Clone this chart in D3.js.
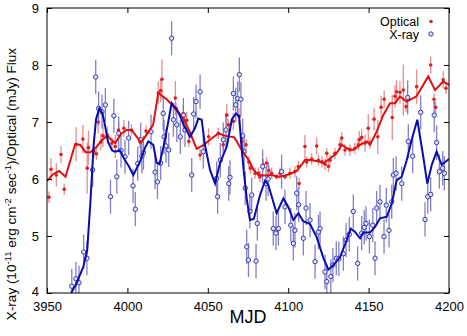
<!DOCTYPE html>
<html>
<head>
<meta charset="utf-8">
<script src="https://cdn.jsdelivr.net/npm/d3@7"></script>
<style>
  body { margin: 0; background: #fff; }
  svg text { font-family: "Liberation Sans", Arial, sans-serif; }
</style>
</head>
<body>
<div id="chart"></div>
<script>
var width = 467;
var height = 336;
var margin = { left: 47, right: 18, top: 8, bottom: 43 };

// optical points: MJD, flux, error
var opticalMjd = [3951.2, 3952.5, 3955.8, 3958.7, 3960.7, 3968.1, 3972.3, 3975.0, 3975.8, 3979.2,
  3980.7, 3981.8, 3983.5, 3984.8, 3987.5, 3990.4, 3992.5, 3994.5, 3997.8, 4002.5,
  4007.8, 4011.6, 4019.2, 4020.7, 4021.5, 4029.8, 4030.2, 4034.8, 4036.9, 4038.2,
  4045.2, 4050.5, 4056.5, 4059.6, 4061.8, 4062.8, 4065.9, 4069.4, 4071.1, 4073.8,
  4075.5, 4076.5, 4079.4, 4081.5, 4082.5, 4084.5, 4086.6, 4088.0, 4089.7, 4092.8,
  4094.9, 4098.0, 4101.1, 4104.2, 4106.3, 4106.8, 4110.4, 4111.5, 4114.6, 4117.7,
  4118.8, 4121.0, 4123.0, 4124.0, 4125.0, 4126.0, 4129.1, 4132.2, 4133.3, 4135.3,
  4138.4, 4141.5, 4143.6, 4144.2, 4145.7, 4147.8, 4149.8, 4150.9, 4153.4, 4155.7,
  4157.8, 4159.7, 4164.7, 4166.4, 4167.4, 4169.5, 4171.6, 4173.3, 4179.9, 4188.6,
  4190.7, 4191.7, 4196.4, 4198.1];
var opticalFlux = [5.68, 6.17, 6.07, 6.43, 5.82, 6.61, 6.70, 6.19, 6.55, 6.48,
  6.44, 7.00, 6.65, 6.76, 6.77, 6.63, 6.57, 6.86, 6.89, 6.86,
  6.65, 6.84, 7.51, 7.55, 7.75, 7.42, 7.24, 7.15, 7.03, 6.66,
  6.42, 6.74, 6.80, 6.60, 7.12, 6.95, 7.01, 7.10, 6.66, 6.60,
  6.30, 6.19, 6.10, 6.10, 6.04, 6.25, 6.28, 6.15, 6.10, 6.04,
  6.10, 6.04, 6.10, 6.13, 6.22, 5.92, 6.57, 6.30, 6.35, 6.58,
  6.33, 6.30, 6.26, 6.45, 6.22, 6.33, 6.45, 6.60, 6.72, 6.51,
  6.51, 6.54, 6.60, 6.69, 6.73, 6.63, 6.89, 6.63, 7.05, 6.74,
  7.26, 7.40, 7.08, 7.45, 7.53, 7.52, 7.56, 7.27, 7.62, 8.00,
  7.40, 7.26, 7.74, 7.59];
var opticalErr = [0.10, 0.20, 0.20, 0.15, 0.10, 0.30, 0.25, 0.45, 0.30, 0.10,
  0.10, 0.20, 0.15, 0.20, 0.15, 0.10, 0.20, 0.15, 0.15, 0.10,
  0.10, 0.10, 0.20, 0.20, 0.35, 0.30, 0.10, 0.15, 0.15, 0.10,
  0.10, 0.15, 0.10, 0.10, 0.20, 0.10, 0.15, 0.15, 0.10, 0.10,
  0.10, 0.10, 0.10, 0.10, 0.10, 0.10, 0.10, 0.10, 0.10, 0.05,
  0.10, 0.05, 0.10, 0.10, 0.10, 0.10, 0.20, 0.10, 0.10, 0.15,
  0.10, 0.10, 0.10, 0.10, 0.10, 0.10, 0.10, 0.10, 0.10, 0.10,
  0.10, 0.10, 0.10, 0.15, 0.15, 0.15, 0.25, 0.10, 0.20, 0.30,
  0.20, 0.15, 0.40, 0.20, 0.20, 0.20, 0.45, 0.10, 0.30, 0.15,
  0.10, 0.10, 0.15, 0.10];

// x-ray points: MJD, flux, error
var xrayMjd = [3965.4, 3968.0, 3969.9, 3972.8, 3974.8, 3978.4, 3980.3, 3982.1, 3984.2, 3986.3,
  3989.5, 3991.6, 3993.4, 3994.6, 3996.0, 3998.5, 4000.8, 4003.5, 4004.9, 4006.4,
  4008.3, 4009.0, 4010.0, 4014.7, 4017.2, 4018.7, 4020.7, 4022.3, 4022.8, 4024.0,
  4025.7, 4027.5, 4028.6, 4030.7, 4032.9, 4034.8, 4035.8, 4040.0, 4041.2, 4042.7,
  4045.2, 4047.2, 4055.5, 4056.1, 4057.8, 4059.6, 4061.3, 4063.0, 4063.8, 4065.9,
  4067.4, 4068.6, 4069.6, 4070.6, 4071.7, 4072.6, 4073.3, 4074.2, 4075.3, 4076.2,
  4077.3, 4080.0, 4080.8, 4084.1, 4086.2, 4087.5, 4090.7, 4092.4, 4093.9, 4095.9,
  4098.0, 4101.6, 4103.2, 4104.2, 4105.3, 4106.5, 4109.4, 4111.1, 4113.6, 4116.7,
  4118.8, 4119.8, 4122.9, 4124.0, 4126.5, 4127.8, 4129.9, 4131.5, 4134.3, 4136.0,
  4138.0, 4140.5, 4143.2, 4145.7, 4147.3, 4148.4, 4150.5, 4152.6, 4154.0, 4155.0,
  4157.1, 4159.6, 4161.0, 4162.7, 4164.4, 4165.4, 4167.1, 4170.6, 4174.3, 4174.7,
  4177.4, 4182.4, 4185.1, 4186.8, 4188.6, 4190.8, 4192.3, 4194.0, 4196.1, 4197.1];
var xrayFlux = [4.12, 4.25, 4.18, 4.72, 4.61, 6.16, 7.79, 7.24, 7.18, 7.30,
  5.69, 7.11, 6.04, 6.80, 6.50, 6.39, 6.72, 5.88, 5.47, 6.27,
  6.69, 6.40, 6.46, 6.83, 6.12, 5.95, 6.28, 7.15, 6.74, 6.58,
  6.51, 8.47, 7.04, 6.95, 6.74, 7.12, 6.86, 6.07, 7.14, 7.36,
  7.53, 6.48, 6.01, 5.69, 6.33, 6.69, 6.86, 5.92, 6.03, 7.50,
  7.30, 7.41, 7.83, 7.40, 6.76, 6.48, 5.84, 4.81, 4.58, 5.43,
  5.72, 4.56, 5.22, 6.22, 5.92, 6.00, 5.13, 5.05, 5.13, 6.13,
  5.51, 5.19, 4.87, 5.10, 5.75, 5.55, 4.96, 5.49, 5.28, 4.55,
  5.07, 5.13, 4.37, 4.20, 4.29, 4.49, 4.61, 4.60, 4.69, 4.93,
  5.03, 5.43, 4.52, 5.05, 5.15, 5.22, 4.99, 5.19, 4.61, 5.49,
  5.60, 4.99, 5.54, 5.10, 5.60, 6.07, 6.10, 5.92, 7.43, 6.66,
  6.40, 7.17, 5.29, 5.69, 5.73, 7.12, 6.64, 6.13, 6.19, 6.10];
var xrayErr = 0.3;

// smoothed curves
var opticalLineMjd = [3950, 3953.5, 3957.5, 3961.5, 3967.5, 3970.6, 3974, 3977, 3980.5, 3984,
  3987.5, 3989.5, 3992.5, 3996, 3999.5, 4002.7, 4005.8, 4008.5, 4012.5, 4016,
  4019.2, 4024.4, 4028.5, 4034.8, 4038.9, 4043.1, 4047.5, 4051.4, 4056.5, 4060.7,
  4066.5, 4071.1, 4075.5, 4078.5, 4081.5, 4085.6, 4089.7, 4093.8, 4098, 4101.5,
  4105.2, 4108.4, 4110.6, 4114.6, 4118.5, 4122, 4126, 4130.1, 4133.3, 4136.4,
  4140.5, 4144.6, 4148.8, 4150.9, 4155, 4159.1, 4163.3, 4166.4, 4169.5, 4173.6,
  4179.8, 4187.1, 4191.3, 4196.4, 4200];
var opticalLineFlux = [5.96, 6.08, 6.14, 6.04, 6.61, 6.60, 6.47, 6.47, 6.55, 6.68,
  6.76, 6.70, 6.63, 6.79, 6.86, 6.86, 6.74, 6.64, 6.80, 6.95,
  7.51, 7.40, 7.28, 7.06, 6.82, 6.53, 6.60, 6.69, 6.80, 6.76,
  6.73, 6.51, 6.33, 6.16, 6.07, 6.06, 6.07, 6.04, 6.06, 6.09,
  6.14, 6.25, 6.34, 6.33, 6.31, 6.28, 6.36, 6.45, 6.60, 6.54,
  6.51, 6.60, 6.66, 6.60, 6.83, 7.12, 7.33, 7.33, 7.45, 7.36,
  7.45, 7.80, 7.56, 7.71, 7.65];

var xrayLineMjd = [3965, 3968, 3972.6, 3975, 3977, 3979, 3980.5, 3982.5, 3984.5, 3986,
  3988, 3990.5, 3992.3, 3995.4, 3998.5, 4001, 4003.7, 4007.8, 4011, 4013,
  4016.1, 4018.2, 4020, 4023.4, 4027.5, 4031.6, 4035, 4038.9, 4042, 4044.1,
  4046.2, 4048.2, 4051.4, 4054.5, 4057.6, 4061.8, 4065, 4067.5, 4069.5, 4071,
  4072.5, 4074.2, 4076.2, 4078.6, 4082.5, 4085.6, 4087.6, 4090.7, 4092.8, 4097,
  4100.1, 4103.2, 4106.3, 4109.4, 4113.6, 4117.7, 4121.8, 4125, 4128.1, 4132.3,
  4136.4, 4138.9, 4141.6, 4144.7, 4146.7, 4150.9, 4154, 4157.1, 4161.3, 4164.4,
  4167.5, 4170.6, 4173.7, 4176.8, 4180.3, 4184, 4186.5, 4189.3, 4192.3, 4195.4,
  4200];
var xrayLineFlux = [4.00, 4.15, 4.46, 4.75, 5.60, 6.60, 7.05, 7.24, 7.15, 6.95,
  6.65, 6.50, 6.48, 6.50, 6.33, 6.22, 6.07, 6.30, 6.55, 6.66,
  6.60, 6.28, 6.26, 6.69, 7.33, 7.18, 6.95, 6.74, 6.89, 7.06,
  7.04, 6.60, 6.16, 5.92, 6.28, 6.57, 7.05, 7.15, 7.10, 6.55,
  6.10, 5.66, 5.28, 5.30, 5.72, 5.97, 5.90, 5.60, 5.40, 5.66,
  5.51, 5.28, 5.40, 5.26, 5.21, 4.98, 4.62, 4.41, 4.49, 4.63,
  4.93, 5.13, 5.07, 4.96, 5.06, 5.06, 5.16, 5.31, 5.34, 5.57,
  5.98, 6.04, 6.33, 6.69, 7.04, 6.39, 5.92, 6.25, 6.48, 6.25,
  6.35];

var xTicks = [3950, 4000, 4050, 4100, 4150, 4200];
var yTicks = [4, 5, 6, 7, 8, 9];

var svg = d3.select("#chart")
    .append("svg")
    .attr("width", width)
    .attr("height", height);

var x = d3.scaleLinear().domain([3950, 4200]).range([margin.left, width - margin.right]);
var y = d3.scaleLinear().domain([4, 9]).range([height - margin.bottom, margin.top]);

svg.append("clipPath").attr("id", "plotclip")
    .append("rect")
    .attr("x", x(3950)).attr("y", y(9))
    .attr("width", x(4200) - x(3950)).attr("height", y(4) - y(9));

var plot = svg.append("g").attr("clip-path", "url(#plotclip)");

var optical = opticalMjd.map((d, i) => ({ mjd: d, v: opticalFlux[i], e: opticalErr[i] }));
var xray = xrayMjd.map((d, i) => ({ mjd: d, v: xrayFlux[i], e: xrayErr }));

// error bars
plot.selectAll(".oerr")
    .data(optical)
    .enter()
    .append("line")
    .attr("x1", d => x(d.mjd)).attr("x2", d => x(d.mjd))
    .attr("y1", d => y(d.v - d.e)).attr("y2", d => y(d.v + d.e))
    .attr("stroke", "#e06a6a")
    .attr("stroke-width", 1.3)
    .attr("opacity", 0.75);

plot.selectAll(".xerr")
    .data(xray)
    .enter()
    .append("line")
    .attr("x1", d => x(d.mjd)).attr("x2", d => x(d.mjd))
    .attr("y1", d => y(d.v - d.e)).attr("y2", d => y(d.v + d.e))
    .attr("stroke", "#6a6ac4")
    .attr("stroke-width", 1.3)
    .attr("opacity", 0.85);

// points
plot.selectAll(".opt")
    .data(optical)
    .enter()
    .append("circle")
    .attr("cx", d => x(d.mjd)).attr("cy", d => y(d.v))
    .attr("r", 1.8)
    .attr("fill", "#e02020");

plot.selectAll(".xr")
    .data(xray)
    .enter()
    .append("circle")
    .attr("cx", d => x(d.mjd)).attr("cy", d => y(d.v))
    .attr("r", 2.2)
    .attr("fill", "#dde0f4")
    .attr("stroke", "#3a3ab0")
    .attr("stroke-width", 1);

// smoothed lines
var line = d3.line().x(d => x(d[0])).y(d => y(d[1]));

plot.append("path")
    .datum(opticalLineMjd.map((d, i) => [d, opticalLineFlux[i]]))
    .attr("d", line)
    .attr("fill", "none")
    .attr("stroke", "#e01010")
    .attr("stroke-width", 2);

plot.append("path")
    .datum(xrayLineMjd.map((d, i) => [d, xrayLineFlux[i]]))
    .attr("d", line)
    .attr("fill", "none")
    .attr("stroke", "#0a0ab0")
    .attr("stroke-width", 2);

// axes, ticks pointing inward on all sides
var fmt = d3.format("d");
var bottom = svg.append("g")
    .attr("transform", "translate(0," + y(4) + ")")
    .call(d3.axisBottom(x).tickValues(xTicks).tickFormat(fmt).tickSize(-5).tickPadding(9));
var left = svg.append("g")
    .attr("transform", "translate(" + x(3950) + ",0)")
    .call(d3.axisLeft(y).tickValues(yTicks).tickFormat(fmt).tickSize(-5).tickPadding(8));
svg.append("g")
    .attr("transform", "translate(0," + y(9) + ")")
    .call(d3.axisTop(x).tickValues(xTicks).tickFormat("").tickSize(-5));
svg.append("g")
    .attr("transform", "translate(" + x(4200) + ",0)")
    .call(d3.axisRight(y).tickValues(yTicks).tickFormat("").tickSize(-5));

svg.selectAll(".domain").remove();
svg.selectAll(".tick line").attr("stroke", "#000");
svg.selectAll(".tick text")
    .attr("fill", "#000")
    .style("font-size", "13px");
// the lowest y label sits right above the first x label
left.selectAll(".tick text").filter(d => d === 4).attr("dy", "0.2em");

svg.append("rect")
    .attr("x", x(3950)).attr("y", y(9))
    .attr("width", x(4200) - x(3950)).attr("height", y(4) - y(9))
    .attr("fill", "none")
    .attr("stroke", "#000")
    .attr("stroke-width", 1);

// axis titles
svg.append("text")
    .attr("x", (x(3950) + x(4200)) / 2)
    .attr("y", 323)
    .attr("text-anchor", "middle")
    .style("font-size", "18px")
    .text("MJD");

var ylab = svg.append("text")
    .attr("transform", "translate(16,184) rotate(-90)")
    .attr("text-anchor", "middle")
    .style("font-size", "13.5px");
ylab.append("tspan").text("X-ray (10");
ylab.append("tspan").attr("dy", -5).style("font-size", "9.5px").text("-11");
ylab.append("tspan").attr("dy", 5).text(" erg cm");
ylab.append("tspan").attr("dy", -5).style("font-size", "9.5px").text("-2");
ylab.append("tspan").attr("dy", 5).text(" sec");
ylab.append("tspan").attr("dy", -5).style("font-size", "9.5px").text("-1");
ylab.append("tspan").attr("dy", 5).text(")/Optical (mJy) Flux");

// legend
var legend = svg.append("g");
legend.append("text")
    .attr("x", 419).attr("y", 25.5)
    .attr("text-anchor", "end")
    .style("font-size", "12.5px")
    .text("Optical");
legend.append("circle")
    .attr("cx", 431).attr("cy", 21.5).attr("r", 1.8)
    .attr("fill", "#e02020");
legend.append("text")
    .attr("x", 419).attr("y", 38.5)
    .attr("text-anchor", "end")
    .style("font-size", "12.5px")
    .text("X-ray");
legend.append("circle")
    .attr("cx", 431).attr("cy", 34).attr("r", 2.2)
    .attr("fill", "#dde0f4")
    .attr("stroke", "#3a3ab0")
    .attr("stroke-width", 1);
</script>
</body>
</html>
